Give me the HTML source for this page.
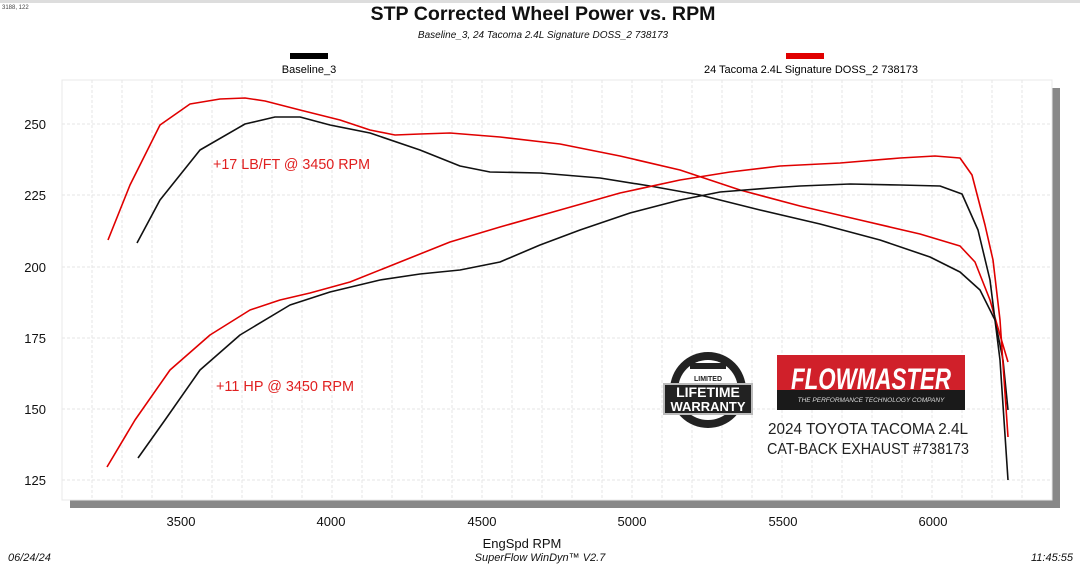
<!DOCTYPE html>
<html><head><meta charset="utf-8"><style>
body{margin:0;background:#fff;width:1080px;height:565px;overflow:hidden;font-family:"Liberation Sans",sans-serif}
</style></head><body>
<svg width="1080" height="565" viewBox="0 0 1080 565" xmlns="http://www.w3.org/2000/svg" font-family="Liberation Sans, sans-serif">
<rect x="0" y="0" width="1080" height="3" fill="#ddd"/>
<text x="2" y="9" font-size="6" fill="#444">3188, 122</text>
<text x="543" y="20" font-size="19" font-weight="bold" text-anchor="middle" fill="#111" textLength="345" lengthAdjust="spacingAndGlyphs">STP Corrected Wheel Power vs. RPM</text>
<text x="543" y="38" font-size="10" font-style="italic" text-anchor="middle" fill="#111">Baseline_3, 24 Tacoma 2.4L Signature DOSS_2 738173</text>
<rect x="290" y="53" width="38" height="6" fill="#000"/>
<text x="309" y="73" font-size="11" text-anchor="middle">Baseline_3</text>
<rect x="786" y="53" width="38" height="6" fill="#e00000"/>
<text x="811" y="73" font-size="11" text-anchor="middle">24 Tacoma 2.4L Signature DOSS_2 738173</text>
<rect x="1052" y="88" width="8" height="420" fill="#888"/>
<rect x="70" y="500" width="990" height="8" fill="#888"/>
<rect x="62" y="80" width="990" height="420" fill="#fff" stroke="#e8e8e8"/>
<g stroke="#e6e6e6" stroke-dasharray="3,2" stroke-width="1">
<path d="M92 80V500M122 80V500M152 80V500M182 80V500M212 80V500M242 80V500M272 80V500M302 80V500M332 80V500M362 80V500M392 80V500M422 80V500M452 80V500M482 80V500M512 80V500M542 80V500M572 80V500M602 80V500M632 80V500M662 80V500M692 80V500M722 80V500M752 80V500M782 80V500M812 80V500M842 80V500M872 80V500M902 80V500M932 80V500M962 80V500M992 80V500M1022 80V500"/>
<path d="M62 124H1052M62 195H1052M62 267H1052M62 338H1052M62 409H1052M62 480H1052"/>
</g>
<g font-size="13" fill="#111" text-anchor="end">
<text x="46" y="129">250</text><text x="46" y="200">225</text><text x="46" y="272">200</text><text x="46" y="343">175</text><text x="46" y="414">150</text><text x="46" y="485">125</text>
</g>
<g font-size="13" fill="#111" text-anchor="middle">
<text x="181" y="526">3500</text><text x="331" y="526">4000</text><text x="482" y="526">4500</text><text x="632" y="526">5000</text><text x="783" y="526">5500</text><text x="933" y="526">6000</text>
<text x="522" y="548">EngSpd  RPM</text>
</g>
<g fill="none" stroke-width="1.6" stroke-linejoin="round">
<polyline stroke="#111" points="137,243 160,200 200,150 245,124 275,117 300,117 330,125 370,133 420,150 460,166 490,172 540,173 600,178 650,186 700,195 760,210 820,224 880,240 930,257 960,272 980,290 995,320 1003,360 1008,410"/>
<polyline stroke="#e00000" points="108,240 130,185 160,125 190,104 220,99 245,98 265,101 300,110 340,120 370,130 395,135 420,134 450,133 500,137 560,144 620,156 680,170 740,190 800,206 860,220 920,234 960,246 975,262 990,300 1000,335 1008,362"/>
<polyline stroke="#e00000" points="107,467 135,420 170,370 210,335 250,310 280,300 310,293 350,282 400,262 450,242 500,227 560,210 620,193 680,180 730,172 780,166 840,163 900,158 935,156 960,158 972,175 985,225 993,260 1000,320 1008,437"/>
<polyline stroke="#111" points="138,458 165,420 200,370 240,335 290,305 330,292 380,280 420,274 460,270 500,262 540,245 580,230 630,213 680,200 720,192 770,188 800,186 850,184 900,185 940,186 962,194 978,230 990,280 1000,360 1008,480"/>
</g>
<g font-size="15" fill="#e02020">
<text x="213" y="169" textLength="157" lengthAdjust="spacingAndGlyphs">+17 LB/FT @ 3450 RPM</text>
<text x="216" y="391" textLength="138" lengthAdjust="spacingAndGlyphs">+11 HP @ 3450 RPM</text>
</g>
<circle cx="708" cy="390" r="38" fill="#222"/>
<circle cx="708" cy="390" r="30" fill="#fff"/>
<rect x="690" y="363" width="36" height="6" fill="#222"/>
<rect x="664" y="384" width="88" height="30" fill="#222" stroke="#bbb" stroke-width="2"/>
<text x="708" y="381" font-size="7" font-weight="bold" text-anchor="middle" fill="#222">LIMITED</text>
<text x="708" y="397" font-size="14" font-weight="bold" text-anchor="middle" fill="#fff">LIFETIME</text>
<text x="708" y="411" font-size="13" font-weight="bold" text-anchor="middle" fill="#fff">WARRANTY</text>
<rect x="777" y="355" width="188" height="55" fill="#d0202a"/>
<rect x="777" y="390" width="188" height="20" fill="#1a1a1a"/>
<text x="871" y="389" font-size="30" font-weight="bold" font-style="italic" text-anchor="middle" fill="#fff" textLength="160" lengthAdjust="spacingAndGlyphs">FLOWMASTER</text>
<text x="871" y="402" font-size="6.5" font-style="italic" text-anchor="middle" fill="#ddd">THE PERFORMANCE TECHNOLOGY COMPANY</text>
<g font-size="16" text-anchor="middle" fill="#222">
<text x="868" y="434" textLength="200" lengthAdjust="spacingAndGlyphs">2024 TOYOTA TACOMA 2.4L</text>
<text x="868" y="454" textLength="202" lengthAdjust="spacingAndGlyphs">CAT-BACK EXHAUST #738173</text>
</g>
<g font-size="11" font-style="italic" fill="#111">
<text x="8" y="561">06/24/24</text>
<text x="540" y="561" text-anchor="middle">SuperFlow WinDyn™  V2.7</text>
<text x="1073" y="561" text-anchor="end">11:45:55</text>
</g>
</svg>
</body></html>
